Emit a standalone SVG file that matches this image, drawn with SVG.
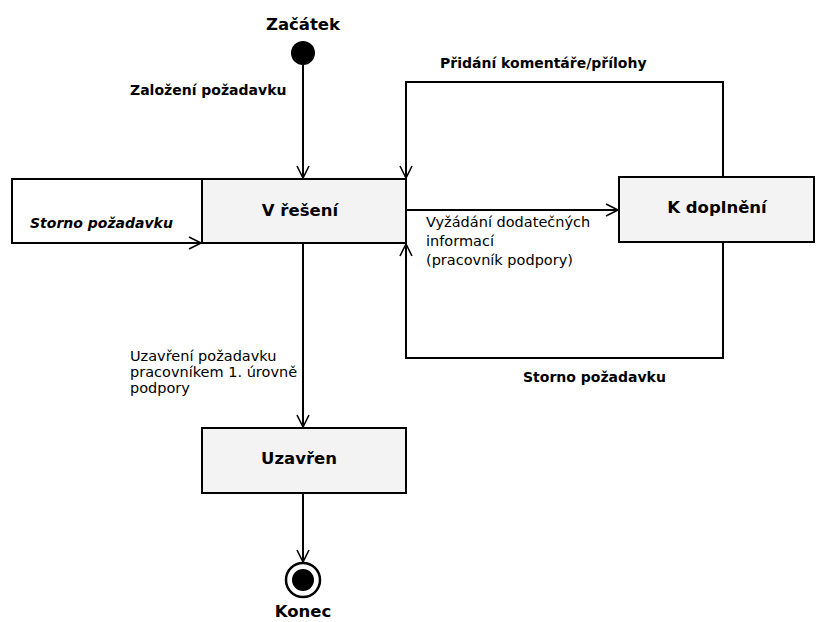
<svg xmlns="http://www.w3.org/2000/svg" width="816" height="622" viewBox="0 0 816 622">
<style>
.box{fill:#f3f3f3;stroke:#000;stroke-width:2}
.ln{fill:none;stroke:#000;stroke-width:2}
.nl{font-family:"DejaVu Sans",sans-serif;font-weight:bold;font-size:16.5px;fill:#000;text-anchor:middle}
.b{font-family:"DejaVu Sans",sans-serif;font-weight:bold;font-size:14px;fill:#000}
.bi{font-family:"DejaVu Sans",sans-serif;font-weight:bold;font-style:italic;font-size:14px;fill:#000}
.n{font-family:"DejaVu Sans",sans-serif;font-size:14.5px;fill:#000}
</style>
<defs>
<marker id="arr" markerUnits="userSpaceOnUse" markerWidth="14" markerHeight="14" refX="12" refY="6" orient="auto" overflow="visible">
<path d="M0,0 L12,6 L0,12" fill="none" stroke="#000" stroke-width="1.6"/>
</marker>
</defs>
<rect width="816" height="622" fill="#fff"/>
<g id="start">
<circle cx="303" cy="53" r="12" fill="#000"/>
<text class="nl" x="303" y="30">Začátek</text>
</g>
<g id="v-reseni">
<rect class="box" x="202" y="179" width="204" height="64"/>
<text class="nl" x="300" y="216">V řešení</text>
</g>
<g id="k-doplneni">
<rect class="box" x="619" y="177" width="195" height="65"/>
<text class="nl" x="717" y="213">K doplnění</text>
</g>
<g id="uzavren">
<rect class="box" x="202" y="428" width="204" height="65"/>
<text class="nl" x="299" y="464">Uzavřen</text>
</g>
<g id="end">
<circle cx="303" cy="580" r="17" fill="#fff" stroke="#000" stroke-width="2.5"/>
<circle cx="303" cy="580" r="11" fill="#000"/>
<text class="nl" x="303" y="617">Konec</text>
</g>
<g id="connectors">
<path class="ln" d="M303,65 V178" marker-end="url(#arr)"/>
<path class="ln" d="M202,179 H12 V243 H201" marker-end="url(#arr)"/>
<path class="ln" d="M723,177 V82 H406 V178" marker-end="url(#arr)"/>
<path class="ln" d="M406,210 H618" marker-end="url(#arr)"/>
<path class="ln" d="M723,242 V358 H406 V244" marker-end="url(#arr)"/>
<path class="ln" d="M303,243 V427" marker-end="url(#arr)"/>
<path class="ln" d="M303,493 V562" marker-end="url(#arr)"/>
<text class="b" x="130" y="95">Založení požadavku</text>
<text class="b" x="440" y="68">Přidání komentáře/přílohy</text>
<text class="bi" x="30" y="228">Storno požadavku</text>
<text class="b" x="523" y="382">Storno požadavku</text>
<text class="n" x="426" y="227">Vyžádání dodatečných</text>
<text class="n" x="426" y="246">informací</text>
<text class="n" x="426" y="265">(pracovník podpory)</text>
<text class="n" x="130" y="361">Uzavření požadavku</text>
<text class="n" x="130" y="377">pracovníkem 1. úrovně</text>
<text class="n" x="130" y="393">podpory</text>
</g>
</svg>
